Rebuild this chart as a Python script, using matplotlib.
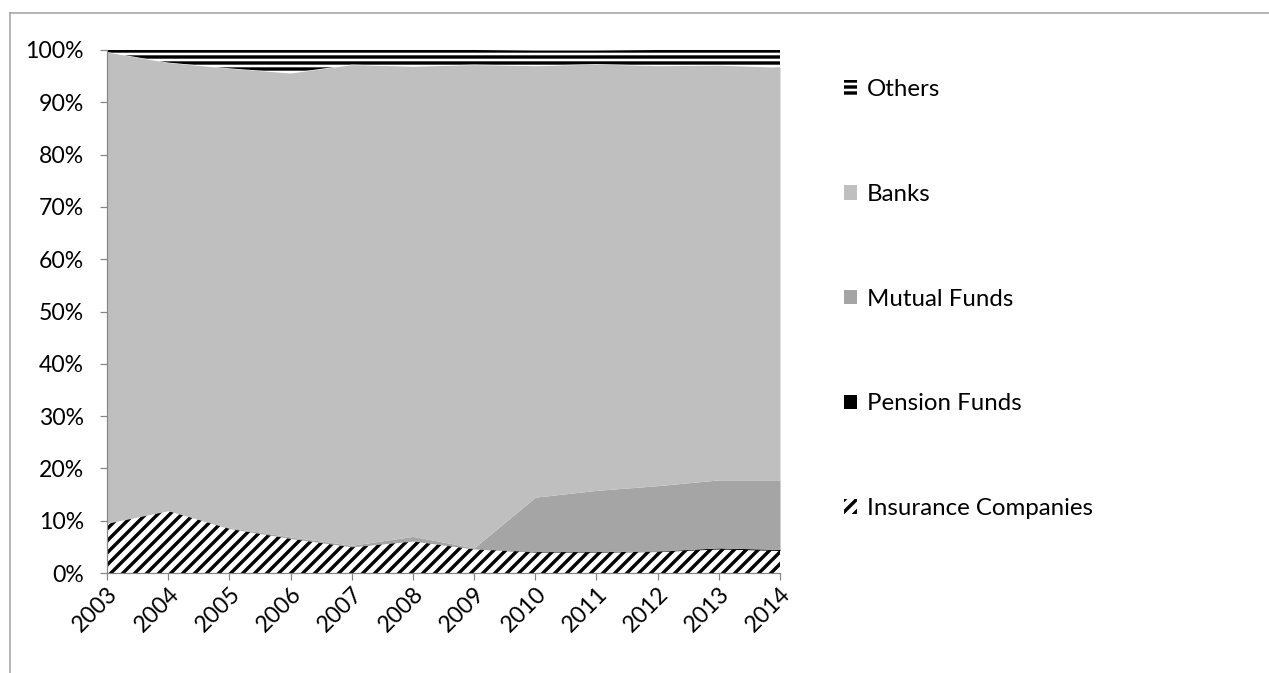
import numpy as np
import matplotlib
matplotlib.use("Agg")
import matplotlib.pyplot as plt
from matplotlib.lines import Line2D
from matplotlib.patches import Patch
from matplotlib.ticker import PercentFormatter

plt.rcParams['font.family'] = ['Lato', 'DejaVu Sans']
plt.rcParams['hatch.linewidth'] = 3.4
plt.rcParams['hatch.color'] = 'black'

years = [2003, 2004, 2005, 2006, 2007, 2008, 2009, 2010, 2011, 2012, 2013, 2014]

# shares in %, stacked bottom to top
insurance = [9.5, 11.9, 8.5, 6.6, 5.0, 6.1, 4.6, 4.0, 4.0, 4.1, 4.6, 4.3]
pension = [0.0, 0.0, 0.0, 0.0, 0.0, 0.0, 0.0, 0.1, 0.1, 0.1, 0.2, 0.2]
mutual = [0.0, 0.0, 0.2, 0.3, 0.3, 0.9, 0.2, 10.4, 11.7, 12.5, 13.0, 13.3]
banks = [90.1, 85.7, 87.8, 88.7, 91.9, 89.9, 92.4, 82.5, 81.5, 80.3, 79.3, 78.9]
others = [0.4, 2.4, 3.5, 4.4, 2.8, 3.1, 2.8, 2.9, 2.6, 3.0, 2.9, 3.3]

series = [
	("Insurance Companies", insurance, 'white', '//'),
	("Pension Funds", pension, 'black', None),
	("Mutual Funds", mutual, '#a5a5a5', None),
	("Banks", banks, '#bfbfbf', None),
	("Others", others, 'white', '--'),
]

fig = plt.figure(figsize=(1269 / 72, 673 / 72), dpi=72)
ax = fig.add_axes([107 / 1269, 100 / 673, 673 / 1269, 523 / 673])

x = np.array(years)
base = np.zeros(len(years))
handles = {}
for name, vals, col, hatch in series:
	top = base + np.array(vals)
	ax.fill_between(x, base, top, facecolor=col, edgecolor='black', linewidth=0, hatch=hatch)
	handles[name] = Patch(facecolor=col, edgecolor='black', linewidth=0, hatch=hatch)
	base = top

ax.set_xlim(2003, 2014)
ax.set_ylim(0, 100)
ax.set_xticks(years)
ax.set_xticklabels([str(y) for y in years], rotation=45, ha='right', rotation_mode='anchor')
ax.set_yticks(np.arange(0, 101, 10))
ax.yaxis.set_major_formatter(PercentFormatter(decimals=0))

for s in ['top', 'right']:
	ax.spines[s].set_visible(False)
for s in ['left', 'bottom']:
	ax.spines[s].set_color('#868686')
	ax.spines[s].set_linewidth(1.2)
ax.tick_params(axis='both', colors='#868686', labelcolor='black', labelsize=23, length=7, width=1.2)
ax.tick_params(axis='x', pad=3)
ax.tick_params(axis='y', pad=16)

order = ["Others", "Banks", "Mutual Funds", "Pension Funds", "Insurance Companies"]
fig.legend([handles[n] for n in order], order, loc='upper left',
		   bbox_to_anchor=(844 / 1269, 1 - 79 / 673), frameon=False, fontsize=24,
		   handlelength=0.55, handleheight=0.55, handletextpad=0.4,
		   labelspacing=3.49, borderpad=0, borderaxespad=0)

# outer chart border (only left and top visible in the crop)
fig.add_artist(Line2D([10 / 1269, 10 / 1269], [0, 1 - 13 / 673], color='#a0a0a0', linewidth=1.5))
fig.add_artist(Line2D([10 / 1269, 1], [1 - 13 / 673, 1 - 13 / 673], color='#a0a0a0', linewidth=1.5))

fig.savefig("out.png", dpi=72)
